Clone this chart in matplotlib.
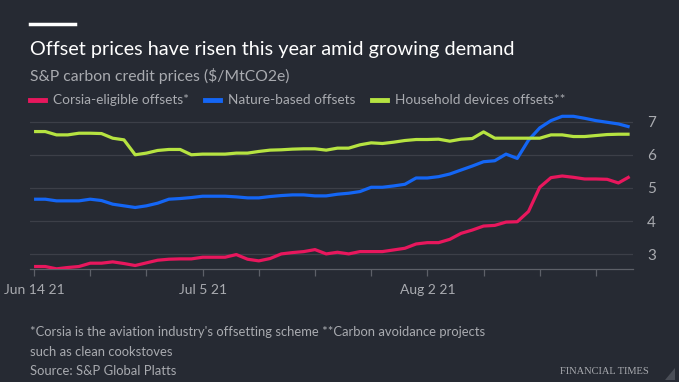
import matplotlib
matplotlib.use("Agg")
import matplotlib.pyplot as plt
import pandas as pd

# business days Jun 14 2021 - Aug 26 2021
dates = pd.bdate_range("2021-06-14", periods=54)

corsia = [2.63, 2.63, 2.56, 2.60, 2.63, 2.73, 2.73, 2.77, 2.72, 2.66,
          2.74, 2.82, 2.85, 2.86, 2.86, 2.91, 2.91, 2.91, 2.99, 2.85,
          2.80, 2.87, 3.01, 3.05, 3.08, 3.14, 3.01, 3.06, 3.01, 3.08,
          3.08, 3.08, 3.13, 3.18, 3.31, 3.35, 3.35, 3.45, 3.63, 3.73,
          3.85, 3.87, 3.97, 3.98, 4.29, 5.02, 5.31, 5.36, 5.32, 5.27,
          5.27, 5.26, 5.15, 5.34]
nature = [4.66, 4.66, 4.61, 4.61, 4.61, 4.66, 4.62, 4.51, 4.46, 4.41,
          4.46, 4.54, 4.66, 4.68, 4.71, 4.75, 4.75, 4.75, 4.73, 4.70,
          4.70, 4.74, 4.77, 4.79, 4.79, 4.76, 4.76, 4.81, 4.84, 4.89,
          5.02, 5.02, 5.06, 5.11, 5.30, 5.30, 5.34, 5.42, 5.54, 5.66,
          5.79, 5.82, 6.02, 5.89, 6.44, 6.81, 7.03, 7.16, 7.16, 7.10,
          7.03, 6.98, 6.93, 6.84]
household = [6.70, 6.70, 6.60, 6.60, 6.65, 6.65, 6.64, 6.50, 6.45, 6.00,
             6.05, 6.13, 6.16, 6.16, 6.00, 6.02, 6.02, 6.02, 6.05, 6.05,
             6.10, 6.14, 6.15, 6.17, 6.18, 6.18, 6.14, 6.20, 6.20, 6.30,
             6.36, 6.34, 6.38, 6.43, 6.46, 6.46, 6.47, 6.41, 6.47, 6.49,
             6.69, 6.50, 6.50, 6.50, 6.50, 6.50, 6.60, 6.60, 6.55, 6.55,
             6.58, 6.61, 6.62, 6.62]

series = [
    ("Corsia-eligible offsets*", corsia, "#e8175d"),
    ("Nature-based offsets", nature, "#1466f5"),
    ("Household devices offsets**", household, "#b6e341"),
]

yticks = [3, 4, 5, 6, 7]
xlabels = {0: "Jun 14 21", 15: "Jul 5 21", 35: "Aug 2 21"}

bg = "#262a33"
grey = "#a9abb0"
font = "Lato"

fig = plt.figure(figsize=(6.79, 3.82), dpi=100, facecolor=bg)
ax = fig.add_axes([30 / 679, 1 - 268.5 / 382, 603 / 679, 156.5 / 382])
ax.set_facecolor(bg)

x = list(range(len(dates)))
for name, vals, col in series:
    ax.plot(x, vals, color=col, linewidth=2.3, solid_joinstyle="round",
            solid_capstyle="butt", zorder=3)

ax.set_ylim(2.57, 7.29)
ax.set_xlim(-0.36, 53.3)

ax.set_yticks(yticks)
ax.yaxis.tick_right()
ax.tick_params(axis="y", length=0, pad=10, labelcolor=grey, labelsize=11)
for lab in ax.get_yticklabels():
    lab.set_fontfamily(font)
ax.grid(axis="y", color="#3c3f48", linewidth=0.9)

ax.set_xticks(range(0, len(dates), 5))
ax.set_xticklabels([xlabels.get(i, "") for i in range(0, len(dates), 5)],
                   fontfamily=font, fontsize=10, color=grey)
ax.tick_params(axis="x", length=5, width=0.9, color="#5d6068", pad=6)

for s in ["top", "left", "right"]:
    ax.spines[s].set_visible(False)
ax.spines["bottom"].set_color("#5d6068")
ax.spines["bottom"].set_linewidth(0.9)

# header
fig.add_artist(plt.Line2D([30 / 679, 75 / 679], [1 - 24 / 382, 1 - 24 / 382],
                          color="white", linewidth=2.5, transform=fig.transFigure))
fig.text(30 / 679, 1 - 50 / 382, "Offset prices have risen this year amid growing demand",
         color="white", fontsize=14.3, fontfamily=font, va="center")
fig.text(30 / 679, 1 - 76 / 382, "S&P carbon credit prices ($/MtCO2e)",
         color=grey, fontsize=11.3, fontfamily=font, va="center")

# legend
leg_x = [30, 205, 372]
for (name, vals, col), lx in zip(series, leg_x):
    fig.add_artist(plt.Line2D([lx / 679, (lx + 15) / 679], [1 - 100 / 382, 1 - 100 / 382],
                              color=col, linewidth=3.5, transform=fig.transFigure))
    fig.text((lx + 23) / 679, 1 - 100 / 382, name, color=grey, fontsize=9.8,
             fontfamily=font, va="center")

# footer
notes = ["*Corsia is the aviation industry's offsetting scheme **Carbon avoidance projects",
         "such as clean cookstoves",
         "Source: S&P Global Platts"]
for k, t in enumerate(notes):
    fig.text(30 / 679, 1 - (332 + 19.5 * k) / 382, t, color=grey, fontsize=9.4,
             fontfamily=font, va="center")
fig.text(649 / 679, 1 - 371 / 382, "FINANCIAL TIMES", color=grey, fontsize=7.5,
         fontfamily="Liberation Serif", ha="right", va="center")

# corner mark
fig.add_artist(plt.Polygon([[665 / 679, 1 - 380 / 382], [675 / 679, 1 - 380 / 382],
                            [675 / 679, 1 - 368 / 382]], closed=True,
                           facecolor="#4a4e57", edgecolor="none",
                           transform=fig.transFigure))

fig.savefig("out.png", dpi=100, facecolor=bg)
